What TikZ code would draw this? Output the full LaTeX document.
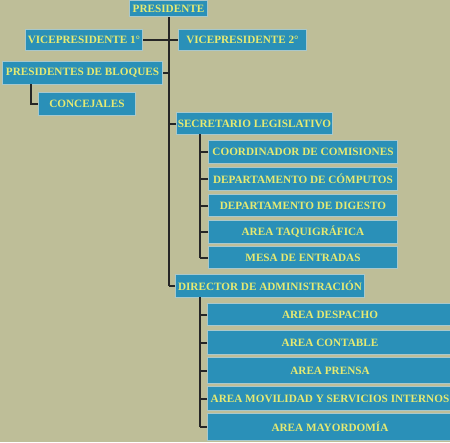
\documentclass[tikz,border=0pt]{standalone}
\usepackage{fontspec}
\setmainfont{Liberation Serif}
\usepackage{xcolor}
\usepackage{tikz}

\definecolor{fondo}{HTML}{BEBE98}
\definecolor{caja}{HTML}{2A90B8}
\definecolor{borde}{HTML}{A8C8CC}
\definecolor{letra}{HTML}{E6EA72}

\tikzset{
  cargo/.style={draw=borde, line width=1pt, fill=caja, text=letra, inner sep=0pt,
    anchor=north west, font=\fontsize{11.2}{13}\selectfont\bfseries},
  linea/.style={line width=2pt, black!85}
}

\begin{document}
\begin{tikzpicture}[x=1pt, y=-1pt]
                    % Fondo
                    \fill[fondo] (0,0) rectangle (450,442);
                    \useasboundingbox (0,0) rectangle (450,442);

                    % Conectores auxiliares
                    \coordinate (pdbT) at (31,84);
                    \coordinate (secT) at (200,134);
                    \coordinate (dirT) at (200,297);

                    % Direccion
                    \node[cargo, minimum width=78, minimum height=16] (pres) at (129,0) {PRESIDENTE};
                    \node[cargo, minimum width=117, minimum height=21] (vp1) at (25,29) {VICEPRESIDENTE 1°};
                    \node[cargo, minimum width=128, minimum height=21] (vp2) at (178,29) {VICEPRESIDENTE 2°};
                    \node[cargo, minimum width=160, minimum height=23] (pdb) at (2,61) {PRESIDENTES DE BLOQUES};
                    \node[cargo, minimum width=97, minimum height=23] (conc) at (38,92) {CONCEJALES};

                    % Secretaria
                    \node[cargo, minimum width=156, minimum height=22] (sec) at (176,112) {SECRETARIO LEGISLATIVO};
                    \node[cargo, minimum width=189, minimum height=23] (coord) at (208,140) {COORDINADOR DE COMISIONES};
                    \node[cargo, minimum width=189, minimum height=23] (comp) at (208,167) {DEPARTAMENTO DE CÓMPUTOS};
                    \node[cargo, minimum width=189, minimum height=22] (dig) at (208,194) {DEPARTAMENTO DE DIGESTO};
                    \node[cargo, minimum width=189, minimum height=23] (taq) at (208,220) {AREA TAQUIGRÁFICA};
                    \node[cargo, minimum width=189, minimum height=22] (mesa) at (208,246) {MESA DE ENTRADAS};

                    % Administracion
                    \node[cargo, minimum width=189, minimum height=23] (dir) at (175,274) {DIRECTOR DE ADMINISTRACIÓN};
                    \node[cargo, minimum width=245, minimum height=22] (desp) at (207,303) {AREA DESPACHO};
                    \node[cargo, minimum width=245, minimum height=24] (cont) at (207,330) {AREA CONTABLE};
                    \node[cargo, minimum width=245, minimum height=26] (prensa) at (207,357) {AREA PRENSA};
                    \node[cargo, minimum width=245, minimum height=24] (movil) at (207,386) {AREA MOVILIDAD Y SERVICIOS INTERNOS};
                    \node[cargo, minimum width=245, minimum height=27] (mayor) at (207,413) {AREA MAYORDOMÍA};

                    % Tronco principal
                    \draw[linea] (pres.south) -- (pres.south |- dir.west);
                    \draw[linea] (vp1.east) -- (vp2.west);
                    \draw[linea] (pdb.east) -- (pdb.east -| pres.south);
                    \draw[linea] (pdbT) |- (conc.west);
                    \draw[linea] (sec.west) -- (sec.west -| pres.south);
                    \draw[linea] (dir.west) -- (dir.west -| pres.south);

                    % Ramas
                    \draw[linea] (secT) -- (secT |- mesa.west);
                    \foreach \n in {coord,comp,dig,taq,mesa}
                      \draw[linea] (\n.west) -- (\n.west -| secT);
                    \draw[linea] (dirT) -- (dirT |- mayor.west);
                    \foreach \n in {desp,cont,prensa,movil,mayor}
                      \draw[linea] (\n.west) -- (\n.west -| dirT);
                \end{tikzpicture}
\end{document}
